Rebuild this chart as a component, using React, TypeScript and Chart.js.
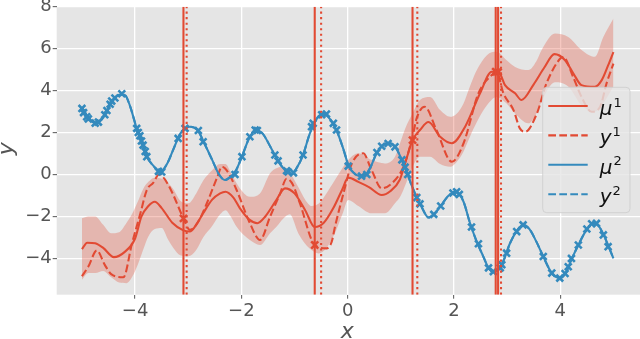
import React, { useEffect, useRef } from "react";
import { Chart, registerables } from "chart.js";

Chart.register(...registerables);

const RED = "#E24A33";
const BLUE = "#348ABD";
const X_MIN = -5.475;
const X_MAX = 5.5;
const Y_MIN = -5.73;
const Y_MAX = 8;

const xTicks = [-4, -2, 0, 2, 4];
const yTicks = [-4, -2, 0, 2, 4, 6, 8];

// posterior mean of task 1 (mu^1)
const mu1X = [-5.0, -4.9, -4.75, -4.6, -4.4, -4.2, -4.0, -3.88, -3.75, -3.63, -3.5, -3.3, -3.1, -2.97, -2.85, -2.72, -2.55, -2.4, -2.3, -2.15, -2.03, -1.85, -1.7, -1.55, -1.34, -1.18, -1.0, -0.8, -0.62, -0.45, -0.27, -0.1, 0.01, 0.2, 0.4, 0.64, 0.8, 0.98, 1.1, 1.22, 1.36, 1.52, 1.74, 1.96, 2.21, 2.49, 2.71, 2.85, 2.96, 3.15, 3.27, 3.5, 3.7, 3.89, 4.09, 4.25, 4.4, 4.65, 4.78, 4.9, 5.0];
const mu1Y = [-3.56, -3.25, -3.28, -3.5, -3.94, -3.7, -3.05, -2.0, -1.5, -1.3, -1.6, -2.3, -2.65, -2.72, -2.4, -1.85, -1.2, -0.9, -0.82, -1.1, -1.6, -2.15, -2.32, -2.0, -1.21, -0.66, -0.9, -1.7, -2.5, -2.3, -1.6, -0.7, -0.15, -0.35, -0.6, -0.98, -0.8, -0.25, 0.7, 1.64, 2.12, 2.5, 1.8, 1.49, 2.28, 3.87, 4.9, 4.85, 4.26, 3.87, 3.55, 4.3, 5.1, 5.74, 5.45, 4.8, 4.26, 4.18, 4.5, 5.2, 5.84];

// true function of task 1 (y^1)
const y1X = [-5.0, -4.88, -4.72, -4.57, -4.45, -4.22, -4.06, -3.9, -3.78, -3.66, -3.55, -3.45, -3.31, -3.09, -2.97, -2.8, -2.65, -2.45, -2.37, -2.25, -2.09, -1.84, -1.65, -1.46, -1.27, -1.15, -1.05, -0.9, -0.62, -0.4, -0.3, -0.24, -0.08, 0.08, 0.29, 0.45, 0.64, 0.83, 1.05, 1.22, 1.3, 1.45, 1.67, 1.96, 2.18, 2.46, 2.71, 2.8, 2.93, 3.12, 3.24, 3.34, 3.56, 3.74, 4.0, 4.06, 4.24, 4.4, 4.59, 4.75, 4.87, 5.0];
const y1Y = [-4.85, -4.39, -3.62, -4.31, -4.75, -4.9, -3.3, -1.85, -0.74, -0.4, 0.0, -0.2, -0.82, -2.09, -2.64, -2.2, -1.37, -0.1, 0.37, 0.1, -0.74, -2.32, -3.12, -2.01, -0.9, -0.2, -0.4, -1.37, -3.36, -3.52, -3.2, -2.5, -0.9, 0.53, 1.01, 0.21, -0.66, -0.42, 0.37, 1.8, 2.7, 3.23, 2.12, 0.61, 1.49, 3.87, 4.74, 4.9, 3.87, 3.07, 2.2, 2.04, 2.91, 4.34, 5.53, 5.6, 4.66, 3.7, 2.99, 3.23, 4.34, 5.29];

// confidence band of task 1
const bandX = [-5.0, -4.88, -4.75, -4.6, -4.45, -4.3, -4.16, -4.06, -3.95, -3.85, -3.75, -3.63, -3.5, -3.38, -3.28, -3.15, -3.0, -2.85, -2.72, -2.55, -2.4, -2.3, -2.2, -2.09, -1.95, -1.84, -1.65, -1.46, -1.34, -1.21, -1.09, -0.93, -0.8, -0.68, -0.55, -0.4, -0.24, -0.1, 0.01, 0.2, 0.45, 0.7, 0.89, 1.0, 1.1, 1.22, 1.36, 1.55, 1.74, 1.93, 2.05, 2.18, 2.3, 2.43, 2.62, 2.8, 2.99, 3.15, 3.4, 3.55, 3.65, 3.9, 4.15, 4.4, 4.65, 4.81, 5.0];
const bandUp = [-2.09, -2.0, -2.0, -2.4, -2.8, -2.75, -2.3, -1.9, -1.3, -0.7, -0.35, -0.15, -0.2, -0.4, -0.7, -1.25, -1.37, -0.9, -0.3, 0.2, 0.5, 0.5, 0.1, -0.42, -0.9, -1.06, -0.9, 0.06, 0.3, 0.37, 0.1, -0.6, -1.2, -1.5, -1.4, -0.9, -0.26, 0.3, 0.69, 1.01, 0.69, 0.53, 0.85, 1.6, 2.3, 2.91, 3.55, 3.7, 3.07, 2.75, 2.9, 3.39, 4.2, 4.98, 5.69, 5.85, 5.45, 5.13, 4.98, 5.4, 5.94, 6.72, 6.56, 5.94, 5.61, 6.56, 7.44];
const bandLo = [-5.02, -4.7, -4.7, -4.6, -4.9, -5.15, -5.18, -4.9, -4.3, -3.6, -2.95, -2.6, -2.55, -3.1, -3.5, -3.85, -3.9, -3.6, -3.0, -2.45, -1.9, -1.7, -2.0, -2.49, -2.9, -3.12, -3.36, -2.8, -2.49, -2.1, -1.9, -2.8, -3.3, -3.6, -3.76, -3.5, -2.8, -1.9, -1.21, -1.5, -1.85, -1.85, -1.37, -1.0, -0.4, 0.37, 0.85, 0.85, 0.5, 0.37, 0.6, 1.1, 1.8, 2.5, 3.3, 3.7, 3.39, 2.91, 2.44, 2.9, 3.5, 4.4, 4.2, 3.3, 3.0, 3.4, 4.2];

// posterior mean of task 2 (mu^2); y^2 coincides with it
const mu2X = [-5.0, -4.9, -4.75, -4.6, -4.45, -4.3, -4.2, -4.1, -3.97, -3.88, -3.78, -3.65, -3.53, -3.4, -3.28, -3.15, -2.97, -2.82, -2.7, -2.55, -2.42, -2.31, -2.2, -2.1, -1.99, -1.85, -1.73, -1.6, -1.45, -1.3, -1.15, -1.05, -0.95, -0.84, -0.72, -0.6, -0.46, -0.32, -0.2, -0.08, 0.02, 0.15, 0.29, 0.42, 0.55, 0.67, 0.78, 0.9, 1.0, 1.1, 1.2, 1.3, 1.4, 1.52, 1.62, 1.75, 1.9, 2.05, 2.18, 2.3, 2.42, 2.55, 2.65, 2.74, 2.85, 2.95, 3.05, 3.18, 3.3, 3.42, 3.55, 3.68, 3.84, 3.99, 4.1, 4.22, 4.34, 4.48, 4.62, 4.72, 4.82, 4.92, 5.0];
const mu2Y = [3.2, 2.8, 2.45, 2.7, 3.4, 3.8, 3.8, 3.3, 2.2, 1.6, 0.85, 0.4, 0.1, 0.5, 1.2, 1.95, 2.28, 2.1, 1.5, 0.7, 0.0, -0.26, -0.1, 0.2, 0.85, 1.75, 2.12, 1.95, 1.3, 0.6, 0.15, 0.05, 0.35, 0.93, 1.9, 2.6, 2.91, 2.6, 2.05, 1.2, 0.4, 0.0, -0.1, 0.3, 1.05, 1.4, 1.5, 1.3, 0.8, 0.2, -0.5, -1.1, -1.6, -2.05, -1.9, -1.5, -1.0, -0.82, -1.3, -2.3, -3.15, -3.9, -4.45, -4.63, -4.5, -4.0, -3.3, -2.7, -2.4, -2.6, -3.2, -3.91, -4.7, -4.94, -4.7, -4.0, -3.36, -2.7, -2.32, -2.45, -2.9, -3.5, -4.0];

// observations of task 2
const obs2X = [-5.0, -4.97, -4.91, -4.88, -4.75, -4.69, -4.57, -4.53, -4.47, -4.44, -4.38, -4.25, -3.97, -3.94, -3.91, -3.88, -3.85, -3.81, -3.78, -3.56, -3.5, -3.19, -3.06, -2.81, -2.72, -2.12, -1.99, -1.84, -1.74, -1.7, -1.37, -1.31, -1.15, -1.12, -1.02, -0.84, -0.68, -0.65, -0.49, -0.4, -0.27, -0.21, 0.01, 0.26, 0.36, 0.55, 0.64, 0.76, 0.89, 1.02, 1.08, 1.13, 1.3, 1.36, 1.62, 1.75, 1.98, 2.05, 2.1, 2.33, 2.46, 2.65, 2.74, 2.87, 2.9, 2.99, 3.18, 3.3, 3.68, 3.84, 3.99, 4.09, 4.15, 4.21, 4.34, 4.5, 4.59, 4.68, 4.81, 4.9];
const obs2Y = [3.15, 2.95, 2.75, 2.65, 2.45, 2.5, 2.85, 3.05, 3.35, 3.5, 3.65, 3.85, 2.2, 2.0, 1.85, 1.6, 1.4, 1.1, 0.85, 0.15, 0.12, 1.72, 2.2, 2.1, 1.56, 0.0, 0.85, 1.8, 2.12, 2.1, 0.93, 0.65, 0.18, 0.12, 0.08, 0.93, 2.28, 2.44, 2.85, 2.88, 2.44, 2.12, 0.4, -0.08, 0.0, 1.05, 1.35, 1.48, 1.32, 0.7, 0.35, 0.0, -1.1, -1.4, -1.9, -1.5, -0.88, -0.82, -0.95, -2.5, -3.3, -4.45, -4.63, -4.45, -4.3, -3.75, -2.72, -2.4, -3.91, -4.7, -4.94, -4.72, -4.4, -4.0, -3.36, -2.6, -2.35, -2.33, -2.88, -3.44];

// queried samples of task 1
const samp1X = [-3.09, -0.62, 1.22, 2.785, 2.83];
const samp1Y = [-2.09, -3.36, 1.64, 4.9, 4.88];

// vertical markers
const vSolid = [-3.09, -0.62, 1.22, 2.785, 2.83];
const vDotted = [-3.03, -0.5, 1.31, 2.885];

const legendMain = ["μ", "y", "μ", "y"];
const legendSup = ["1", "1", "2", "2"];
const legendColors = [RED, RED, BLUE, BLUE];
const legendDashed = [false, true, false, true];
const xLabel = "x";
const yLabel = "y";

const LW = 2.08;
const DASH = [7.7, 3.3];
const DOT = [2.08, 3.43];

const pts = (xs: number[], ys: number[]) => xs.map((x, i) => ({ x, y: ys[i] }));
const vline = (v: number) => [{ x: v, y: Y_MIN }, { x: v, y: Y_MAX }];
const fmt = (v: number) => (v < 0 ? "\u2212" + Math.abs(v) : String(v));

const bgPlugin = {
  id: "bgArea",
  beforeDraw(chart: any) {
    const { ctx, chartArea: a } = chart;
    ctx.save();
    ctx.fillStyle = "#E5E5E5";
    ctx.fillRect(a.left, a.top, a.right - a.left, a.bottom - a.top);
    ctx.restore();
  },
};

const decoPlugin = {
  id: "deco",
  afterDraw(chart: any) {
    const { ctx, chartArea: a } = chart;
    ctx.save();
    // axis titles
    ctx.fillStyle = "#555555";
    ctx.font = 'italic 22px "DejaVu Sans"';
    ctx.textAlign = "center";
    ctx.textBaseline = "alphabetic";
    ctx.fillText(xLabel, (a.left + a.right) / 2 - 1, 338);
    ctx.save();
    ctx.translate(12.5, (a.top + a.bottom) / 2 - 2);
    ctx.rotate(-Math.PI / 2);
    ctx.fillText(yLabel, 0, 0);
    ctx.restore();

    // legend
    const lx = a.right - 97.3;
    const ly = a.top + 80.6;
    const lw = 87.3;
    const lh = 125.4;
    ctx.beginPath();
    ctx.roundRect(lx, ly, lw, lh, 4);
    ctx.fillStyle = "rgba(229,229,229,0.8)";
    ctx.fill();
    ctx.strokeStyle = "rgba(204,204,204,0.8)";
    ctx.lineWidth = 1;
    ctx.stroke();
    for (let i = 0; i < legendMain.length; i++) {
      const ry = ly + 18.7 + i * 29.4;
      ctx.beginPath();
      ctx.strokeStyle = legendColors[i];
      ctx.lineWidth = LW;
      ctx.setLineDash(legendDashed[i] ? DASH : []);
      ctx.moveTo(lx + 5.6, ry);
      ctx.lineTo(lx + 45, ry);
      ctx.stroke();
      ctx.setLineDash([]);
      ctx.fillStyle = "#111111";
      ctx.textAlign = "left";
      ctx.textBaseline = "alphabetic";
      ctx.font = 'italic 20px "DejaVu Sans"';
      const tx = lx + 57;
      const by = ry + 9;
      ctx.fillText(legendMain[i], tx, by);
      const w = ctx.measureText(legendMain[i]).width;
      ctx.font = '13px "DejaVu Sans"';
      ctx.fillText(legendSup[i], tx + w + 1, by - 8.5);
    }
    ctx.restore();
  },
};

export default function App() {
  const ref = useRef<HTMLCanvasElement | null>(null);

  useEffect(() => {
    if (!ref.current) return;
    const datasets: any[] = [];
    vSolid.forEach((v) =>
      datasets.push({ data: vline(v), borderColor: RED, borderWidth: LW, pointRadius: 0, fill: false })
    );
    vDotted.forEach((v) =>
      datasets.push({ data: vline(v), borderColor: RED, borderWidth: LW, borderDash: DOT, pointRadius: 0, fill: false })
    );
    datasets.push({
      data: pts(samp1X, samp1Y),
      showLine: false,
      pointStyle: "crossRot",
      pointRadius: 5,
      borderColor: RED,
      backgroundColor: RED,
      pointBorderWidth: 2.5,
    });
    datasets.push({
      data: pts(obs2X, obs2Y),
      showLine: false,
      pointStyle: "crossRot",
      pointRadius: 4.8,
      borderColor: BLUE,
      backgroundColor: BLUE,
      pointBorderWidth: 2.6,
    });
    datasets.push({
      data: pts(mu2X, mu2Y),
      borderColor: BLUE,
      borderWidth: LW,
      pointRadius: 0,
      cubicInterpolationMode: "monotone",
      fill: false,
    });
    datasets.push({
      data: pts(mu2X, mu2Y),
      borderColor: BLUE,
      borderWidth: LW,
      borderDash: DASH,
      pointRadius: 0,
      cubicInterpolationMode: "monotone",
      fill: false,
    });
    datasets.push({
      data: pts(y1X, y1Y),
      borderColor: RED,
      borderWidth: LW,
      borderDash: DASH,
      pointRadius: 0,
      cubicInterpolationMode: "monotone",
      fill: false,
    });
    datasets.push({
      data: pts(mu1X, mu1Y),
      borderColor: RED,
      borderWidth: LW,
      pointRadius: 0,
      cubicInterpolationMode: "monotone",
      fill: false,
    });
    datasets.push({
      data: pts(bandX, bandUp),
      borderWidth: 0,
      borderColor: "rgba(0,0,0,0)",
      pointRadius: 0,
      cubicInterpolationMode: "monotone",
      fill: false,
    });
    datasets.push({
      data: pts(bandX, bandLo),
      borderWidth: 0,
      borderColor: "rgba(0,0,0,0)",
      backgroundColor: "rgba(226,74,51,0.3)",
      pointRadius: 0,
      cubicInterpolationMode: "monotone",
      fill: "-1",
    });

    const tickFont = { family: "DejaVu Sans", size: 18 };
    const chart = new Chart(ref.current, {
      type: "line",
      data: { datasets },
      plugins: [bgPlugin, decoPlugin],
      options: {
        animation: false,
        responsive: false,
        devicePixelRatio: 1,
        events: [],
        layout: { autoPadding: false, padding: { top: 6.7, right: 0, left: 0, bottom: 0 } },
        plugins: { legend: { display: false }, tooltip: { enabled: false } },
        scales: {
          x: {
            type: "linear",
            min: X_MIN,
            max: X_MAX,
            afterBuildTicks: (s: any) => {
              s.ticks = xTicks.map((v) => ({ value: v }));
            },
            afterFit: (s: any) => {
              s.height = 44.3;
              s.paddingLeft = 0;
              s.paddingRight = 0;
            },
            border: { display: false },
            grid: { color: "#FFFFFF", lineWidth: 1.3, tickColor: "#555555", tickLength: 4, tickWidth: 1 },
            ticks: { color: "#555555", font: tickFont, padding: 2, maxRotation: 0, autoSkip: false, callback: (v: any) => fmt(Number(v)) },
          },
          y: {
            type: "linear",
            min: Y_MIN,
            max: Y_MAX,
            afterBuildTicks: (s: any) => {
              s.ticks = yTicks.map((v) => ({ value: v }));
            },
            afterFit: (s: any) => {
              s.width = 56.7;
              s.paddingTop = 0;
              s.paddingBottom = 0;
            },
            border: { display: false },
            grid: { color: "#FFFFFF", lineWidth: 1.3, tickColor: "#555555", tickLength: 4, tickWidth: 1 },
            ticks: { color: "#555555", font: tickFont, padding: 1, autoSkip: false, callback: (v: any) => fmt(Number(v)) },
          },
        },
      },
    } as any);
    return () => chart.destroy();
  }, []);

  return (
    <div style={{ position: "fixed", left: 0, top: 0, width: 640, height: 339, background: "#FFFFFF" }}>
      <canvas ref={ref} width={640} height={339} style={{ display: "block" }} />
    </div>
  );
}
